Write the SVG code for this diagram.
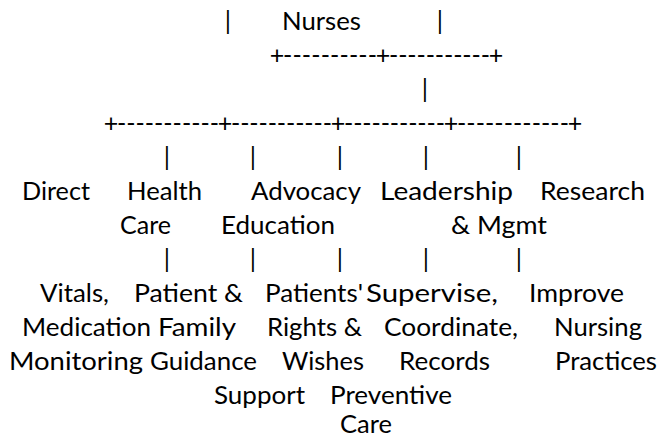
<svg xmlns="http://www.w3.org/2000/svg" width="660" height="439" viewBox="0 0 660 439">
<style>
text{font-family:Lato,"Open Sans","Liberation Sans",sans-serif;font-size:25px;fill:#000}
.m{text-anchor:middle}
</style>
<rect width="660" height="439" fill="#fff"/>
<g id="connectors">
<text class="m" x="228" y="30">|</text>
<text class="m" x="440" y="30">|</text>
<text class="m" x="277" y="64">+</text>
<text x="283" y="64" textLength="94" lengthAdjust="spacing">----------</text>
<text class="m" x="383" y="64">+</text>
<text x="389" y="64" textLength="101" lengthAdjust="spacing">-----------</text>
<text class="m" x="496" y="64">+</text>
<text class="m" x="425" y="98">|</text>
<text class="m" x="111" y="132">+</text>
<text x="117" y="132" textLength="102" lengthAdjust="spacing">-----------</text>
<text class="m" x="225" y="132">+</text>
<text x="231" y="132" textLength="101" lengthAdjust="spacing">-----------</text>
<text class="m" x="338" y="132">+</text>
<text x="344" y="132" textLength="101" lengthAdjust="spacing">-----------</text>
<text class="m" x="451" y="132">+</text>
<text x="457" y="132" textLength="112" lengthAdjust="spacing">------------</text>
<text class="m" x="575" y="132">+</text>
<text class="m" x="167" y="166">|</text>
<text class="m" x="253" y="166">|</text>
<text class="m" x="340" y="166">|</text>
<text class="m" x="426" y="166">|</text>
<text class="m" x="519" y="166">|</text>
<text class="m" x="167" y="268">|</text>
<text class="m" x="253" y="268">|</text>
<text class="m" x="340" y="268">|</text>
<text class="m" x="426" y="268">|</text>
<text class="m" x="519" y="268">|</text>
</g>
<g id="nurses"><text x="282" y="30" textLength="79" lengthAdjust="spacingAndGlyphs">Nurses</text></g>
<g id="direct-care">
<text x="22" y="200" textLength="68" lengthAdjust="spacingAndGlyphs">Direct</text>
<text x="120" y="234" textLength="51" lengthAdjust="spacingAndGlyphs">Care</text>
</g>
<g id="health-education">
<text x="127" y="200" textLength="75" lengthAdjust="spacingAndGlyphs">Health</text>
<text x="221" y="234" textLength="114" lengthAdjust="spacingAndGlyphs">Education</text>
</g>
<g id="advocacy"><text x="251" y="200" textLength="110" lengthAdjust="spacingAndGlyphs">Advocacy</text></g>
<g id="leadership">
<text x="380" y="200" textLength="133" lengthAdjust="spacingAndGlyphs">Leadership</text>
<text x="451" y="234" textLength="96" lengthAdjust="spacingAndGlyphs">&amp; Mgmt</text>
</g>
<g id="research"><text x="540" y="200" textLength="105" lengthAdjust="spacingAndGlyphs">Research</text></g>
<g id="vitals">
<text x="40" y="302" textLength="69" lengthAdjust="spacingAndGlyphs">Vitals,</text>
<text x="22" y="336" textLength="129" lengthAdjust="spacingAndGlyphs">Medication</text>
<text x="9" y="370" textLength="134" lengthAdjust="spacingAndGlyphs">Monitoring</text>
</g>
<g id="family-guidance">
<text x="134" y="302" textLength="109" lengthAdjust="spacingAndGlyphs">Patient &amp;</text>
<text x="158" y="336" textLength="78" lengthAdjust="spacingAndGlyphs">Family</text>
<text x="150" y="370" textLength="107" lengthAdjust="spacingAndGlyphs">Guidance</text>
</g>
<g id="patients-rights">
<text x="265" y="302" textLength="98" lengthAdjust="spacingAndGlyphs">Patients'</text>
<text x="267" y="336" textLength="95" lengthAdjust="spacingAndGlyphs">Rights &amp;</text>
<text x="282" y="370" textLength="82" lengthAdjust="spacingAndGlyphs">Wishes</text>
<text x="214" y="404" textLength="91" lengthAdjust="spacingAndGlyphs">Support</text>
</g>
<g id="supervise">
<text x="366" y="302" textLength="132" lengthAdjust="spacingAndGlyphs">Supervise,</text>
<text x="384" y="336" textLength="134" lengthAdjust="spacingAndGlyphs">Coordinate,</text>
<text x="399" y="370" textLength="91" lengthAdjust="spacingAndGlyphs">Records</text>
</g>
<g id="preventive-care">
<text x="330" y="404" textLength="122" lengthAdjust="spacingAndGlyphs">Preventive</text>
<text x="340" y="433" textLength="52" lengthAdjust="spacingAndGlyphs">Care</text>
</g>
<g id="improve">
<text x="529" y="302" textLength="95" lengthAdjust="spacingAndGlyphs">Improve</text>
<text x="554" y="336" textLength="88" lengthAdjust="spacingAndGlyphs">Nursing</text>
<text x="555" y="370" textLength="102" lengthAdjust="spacingAndGlyphs">Practices</text>
</g>
</svg>
